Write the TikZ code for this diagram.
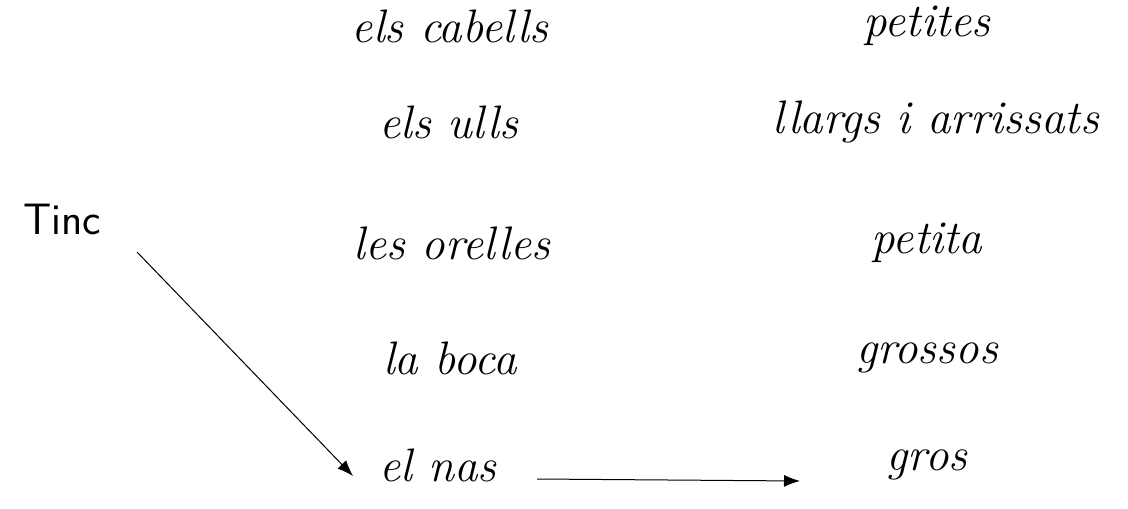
\documentclass[tikz,border=0pt]{standalone}
\usetikzlibrary{arrows.meta}
\begin{document}
\begin{tikzpicture}[x=1pt,y=-1pt,
  word/.style={font=\fontsize{47}{52}\selectfont\itshape, inner sep=2pt},
  plain/.style={font=\fontsize{44}{48}\selectfont\sffamily, inner sep=2pt},
  conn/.style={line width=1pt, -{Latex[length=16pt,width=12pt]}}]
\useasboundingbox (0,0) rectangle (1128,509);
\node[word] (cab) at (450,26) {els cabells};
\node[word] (pet) at (927,26) {petites};
\node[word] (ulls) at (449,122) {els ulls};
\node[word] (llar) at (936,122) {llargs i arrissats};
\node[plain] (tinc) at (62,219) {Tinc};
\node[word] (ore) at (452,243) {les orelles};
\node[word] (peta) at (927,243) {petita};
\node[word] (boca) at (450,358) {la boca};
\node[word] (gross) at (927,358) {grossos};
\node[word] (nas) at (438,465) {el nas};
\node[word] (gros) at (927,465) {gros};
\draw[conn] ([shift={(75,33)}]tinc.center) -- ([shift={(-85,11)}]nas.center);
\draw[conn] ([shift={(99,14)}]nas.center) -- ([shift={(-127,16)}]gros.center);
\end{tikzpicture}
\end{document}
